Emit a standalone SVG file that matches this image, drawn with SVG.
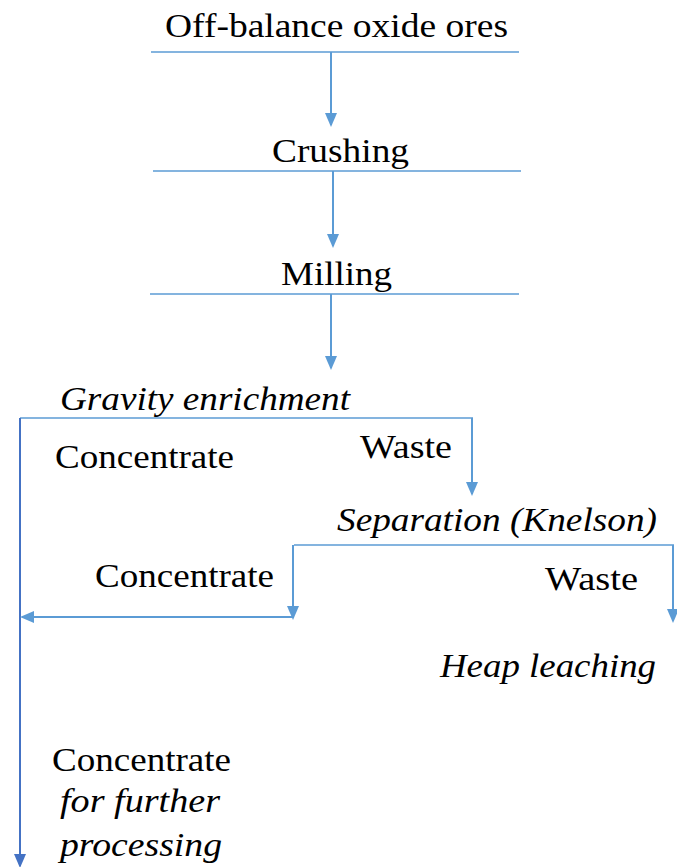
<svg xmlns="http://www.w3.org/2000/svg" width="677" height="867" viewBox="0 0 677 867">
<style>
.t{font-family:"Liberation Serif","Times New Roman",serif;font-size:33px;fill:#000}
.i{font-style:italic}
.ln{stroke:#5B9BD5;stroke-width:1.5;fill:none}
.ar{stroke:#5B9BD5;stroke-width:2;fill:none}
.dk{stroke:#4472C4;stroke-width:2;fill:none}
</style>
<defs>
<marker id="a" markerWidth="14" markerHeight="14" refX="12" refY="7" orient="auto" markerUnits="userSpaceOnUse">
<path d="M0,1 L14,7 L0,13 Z" fill="#5B9BD5"/>
</marker>
<marker id="ad" markerWidth="14" markerHeight="14" refX="12" refY="7" orient="auto" markerUnits="userSpaceOnUse">
<path d="M0,1 L14,7 L0,13 Z" fill="#4472C4"/>
</marker>
</defs>
<g id="n1"><text class="t" x="165" y="37" textLength="343" lengthAdjust="spacingAndGlyphs">Off-balance oxide ores</text><line class="ln" x1="151" y1="52" x2="519" y2="52"/></g>
<g id="n2"><text class="t" x="272" y="162" textLength="137" lengthAdjust="spacingAndGlyphs">Crushing</text><line class="ln" x1="153" y1="171" x2="521" y2="171"/></g>
<g id="n3"><text class="t" x="281" y="285" textLength="111" lengthAdjust="spacingAndGlyphs">Milling</text><line class="ln" x1="150" y1="294" x2="519" y2="294"/></g>
<g id="n4"><text class="t i" x="60" y="410" textLength="290" lengthAdjust="spacingAndGlyphs">Gravity enrichment</text></g>
<g id="n5"><text class="t i" x="337" y="531" textLength="320" lengthAdjust="spacingAndGlyphs">Separation (Knelson)</text></g>
<g id="n6"><text class="t i" x="440" y="677" textLength="216" lengthAdjust="spacingAndGlyphs">Heap leaching</text></g>
<g id="n7"><text class="t" x="52" y="771" textLength="179" lengthAdjust="spacingAndGlyphs">Concentrate</text><text class="t i" x="60" y="812" textLength="160" lengthAdjust="spacingAndGlyphs">for further</text><text class="t i" x="60" y="856" textLength="162" lengthAdjust="spacingAndGlyphs">processing</text></g>
<g id="labels">
<text class="t" x="55" y="468" textLength="179" lengthAdjust="spacingAndGlyphs">Concentrate</text>
<text class="t" x="360" y="458" textLength="92" lengthAdjust="spacingAndGlyphs">Waste</text>
<text class="t" x="95" y="587" textLength="179" lengthAdjust="spacingAndGlyphs">Concentrate</text>
<text class="t" x="545" y="590" textLength="93" lengthAdjust="spacingAndGlyphs">Waste</text>
</g>
<g id="connectors">
<line class="ar" x1="331" y1="52" x2="331" y2="125" marker-end="url(#a)"/>
<line class="ar" x1="333" y1="171" x2="333" y2="246" marker-end="url(#a)"/>
<line class="ar" x1="331" y1="294" x2="331" y2="368" marker-end="url(#a)"/>
<line class="ln" x1="20" y1="418" x2="473" y2="418"/>
<line class="ar" x1="472" y1="418" x2="472" y2="494" marker-end="url(#a)"/>
<line class="dk" x1="20" y1="418" x2="20" y2="866" marker-end="url(#ad)"/>
<line class="ln" x1="294" y1="545" x2="674" y2="545"/>
<line class="ar" x1="293" y1="545" x2="293" y2="618" marker-end="url(#a)"/>
<line class="ar" x1="673" y1="545" x2="673" y2="621" marker-end="url(#a)"/>
<line class="ar" x1="293" y1="617" x2="22" y2="617" marker-end="url(#a)"/>
</g>
</svg>
